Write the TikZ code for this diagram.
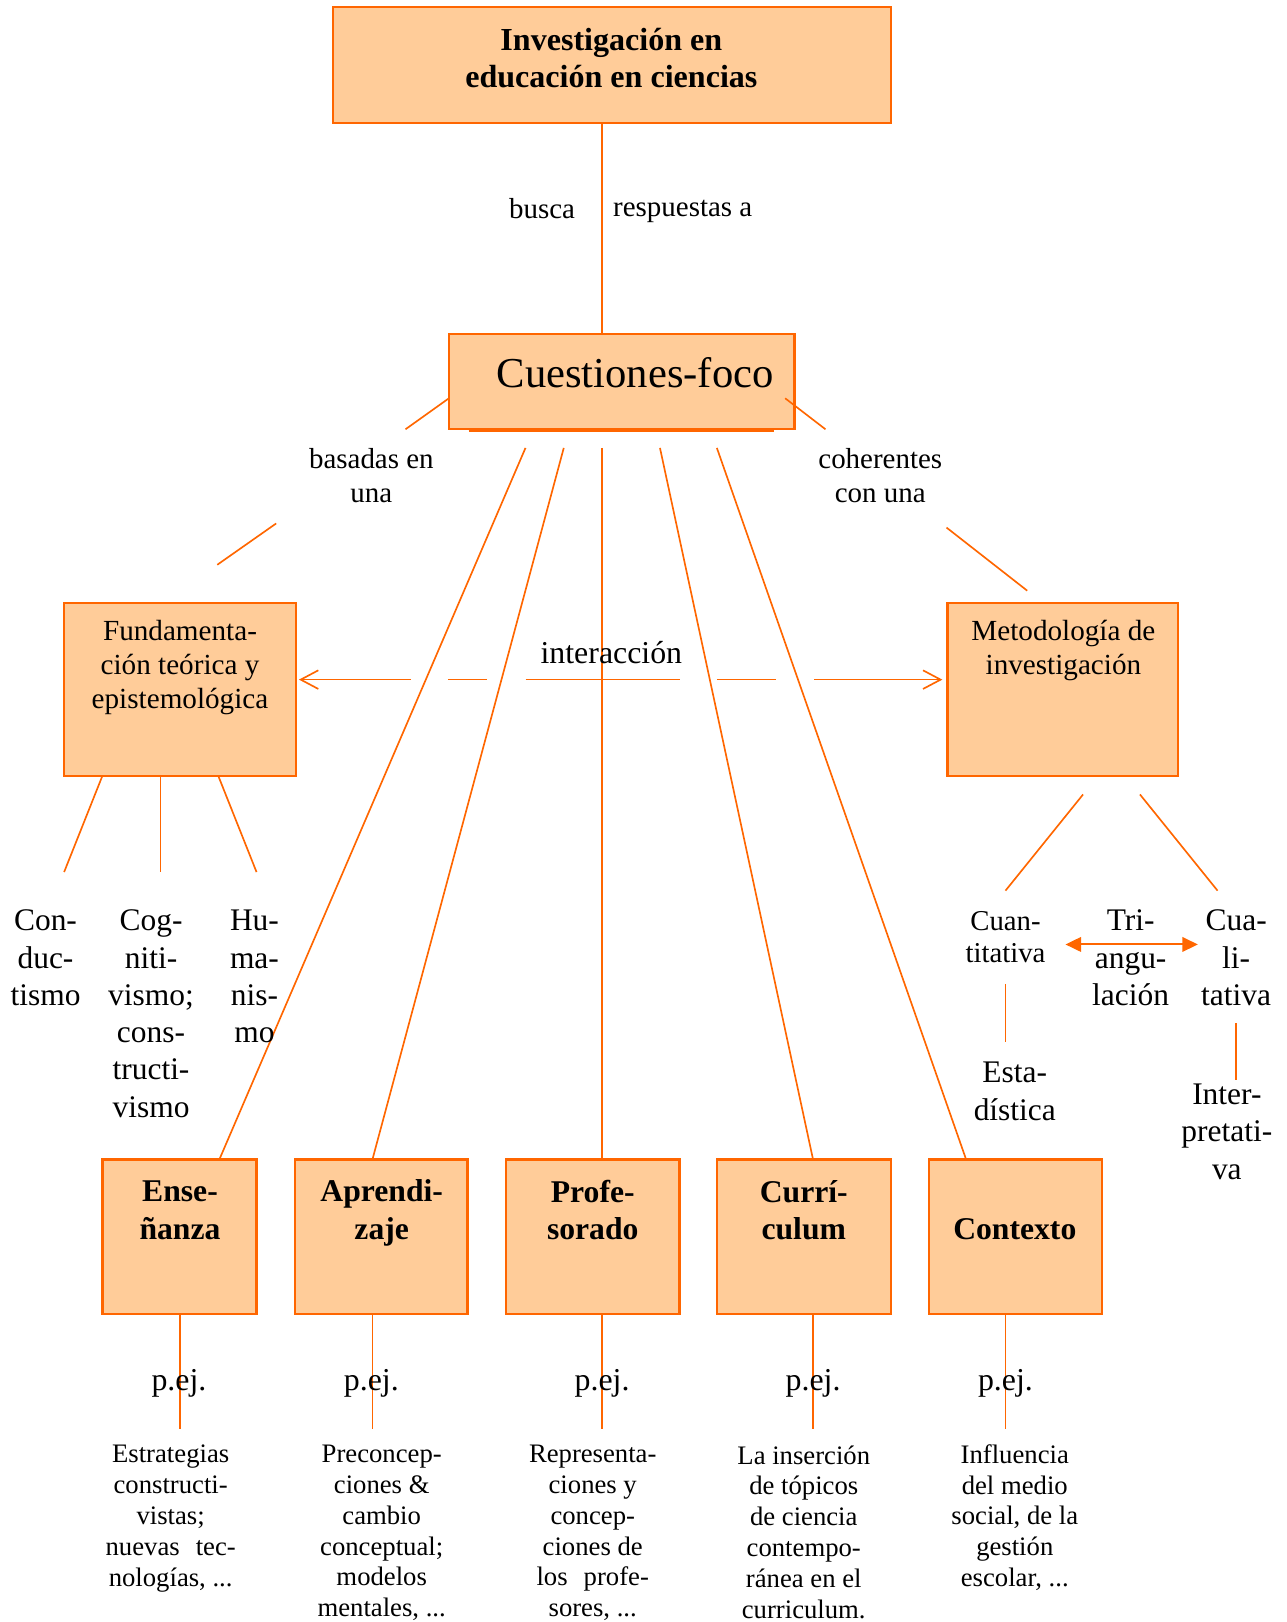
\documentclass[tikz,border=0pt]{standalone}
\usepackage{fontspec}
\setmainfont{Liberation Serif}
\usetikzlibrary{arrows.meta}
\definecolor{boxfill}{HTML}{FFCC99}
\definecolor{boxline}{HTML}{FF6600}
\newcommand{\fsz}[2]{\fontsize{#1}{#2}\selectfont}

\begin{document}
\begin{tikzpicture}[x=0.5pt,y=-0.5pt,
  box/.style={draw=boxline,fill=boxfill,line width=1.1pt,inner sep=0pt,outer sep=0pt},
  link/.style={draw=boxline,line width=0.8pt},
  txt/.style={inner sep=0pt,outer sep=0pt,align=center},
  barb/.style={{Straight Barb[length=8.5pt,width=9pt]}-},
  tri/.style={{Triangle[length=7.5pt,width=7pt]}-{Triangle[length=7.5pt,width=7pt]}},
  title/.style={txt,font=\bfseries\fsz{15.3}{18}},
  body/.style={txt,font=\fsz{14}{16.5}},
  branch/.style={txt,font=\fsz{15.2}{18}},
  note/.style={txt,font=\fsz{12.9}{14.9}},
  eg/.style={txt,font=\fsz{15.4}{18}}
]
\useasboundingbox (0,0) rectangle (1244,1568);

% boxes
\node[box,minimum width=269.5pt,minimum height=56pt] (top) at (591.5,63) {};
\node[box,minimum width=167pt,minimum height=46pt] (cf) at (601,369) {};
\draw[boxline,line width=0.9pt] (453,416.5) -- (748,416.5);
\node[box,minimum width=112pt,minimum height=83.5pt] (fund) at (174,666.5) {};
\node[box,minimum width=111.5pt,minimum height=83.5pt] (meto) at (1027.5,666.5) {};
\node[box,minimum width=74.5pt,minimum height=74.5pt] (ens) at (173.5,1195.5) {};
\node[box,minimum width=83.5pt,minimum height=74.5pt] (apr) at (368.5,1195.5) {};
\node[box,minimum width=84pt,minimum height=74.5pt] (pro) at (573,1195.5) {};
\node[box,minimum width=84pt,minimum height=74.5pt] (cur) at (777,1195.5) {};
\node[box,minimum width=83.5pt,minimum height=74.5pt] (con) at (981.5,1195.5) {};

% top link
\draw[link] (582,0 |- top.south) -- (582,0 |- cf.north);

% links to the two framing boxes, broken by their labels
\coordinate (bl1) at (392,415);
\coordinate (bl2) at (267,506);
\coordinate (bl3) at (210,546);
\draw[link] (cf.west |- 0,385) -- (bl1);
\draw[link] (bl2) -- (bl3);
\coordinate (cr0) at (759,385);
\coordinate (cr1) at (798,415);
\coordinate (cr2) at (915,510);
\coordinate (cr3) at (993,571);
\draw[link] (cr0) -- (cr1);
\draw[link] (cr2) -- (cr3);

% fan of links to the five topic boxes
\coordinate (f1) at (508,433);
\coordinate (f2) at (545,433);
\coordinate (f3) at (582,433);
\coordinate (f4) at (638,433);
\coordinate (f5) at (693,433);
\draw[link] (f1) -- (212,0 |- ens.north);
\draw[link] (f2) -- (360,0 |- apr.north);
\draw[link] (f3) -- (582,0 |- pro.north);
\draw[link] (f4) -- (786,0 |- cur.north);
\draw[link] (f5) -- (934,0 |- con.north);

% interaction arrow, interrupted where it crosses the fan
\coordinate (i1) at (397,657);
\coordinate (i2) at (433,657);
\coordinate (i3) at (471,657);
\coordinate (i4) at (508,657);
\coordinate (i5) at (657,657);
\coordinate (i6) at (693,657);
\coordinate (i7) at (750,657);
\coordinate (i8) at (787,657);
\draw[link,barb] (289,0 |- i1) -- (i1);
\draw[link] (i2) -- (i3);
\draw[link] (i4) -- (i5);
\draw[link] (i6) -- (i7);
\draw[link,barb] (911,0 |- i8) -- (i8);

% theoretical branches
\draw[link] (99,0 |- fund.south) -- (62,843);
\draw[link] (155,0 |- fund.south) -- (155,843);
\draw[link] (211,0 |- fund.south) -- (248,843);

% methodological branches
\coordinate (m1) at (1047,768);
\coordinate (m2) at (1102,768);
\draw[link] (m1) -- (972,861);
\draw[link] (m2) -- (1177,861);
\draw[link,line width=1pt,tri] (1030,913) -- (1158,913);
\draw[link] (972,951) -- (972,1007);
\draw[link] (1195,989) -- (1195,1044);

% example links
\draw[link] (174,0 |- ens.south) -- (174,1381);
\draw[link] (360,0 |- apr.south) -- (360,1381);
\draw[link] (582,0 |- pro.south) -- (582,1381);
\draw[link] (786,0 |- cur.south) -- (786,1381);
\draw[link] (972,0 |- con.south) -- (972,1381);

% texts
\node[title,font=\bfseries\fsz{15.5}{18}] (tTop) at (591,56) {Investigación en\\educación en ciencias};
\node[body] (tBusca) at (524,202) {busca};
\node[body] (tResp) at (660,204) {respuestas a};
\node[txt,font=\fsz{20.6}{24}] (tCf) at (614,360) {Cuestiones-foco};
\node[body] (tBas) at (359,460) {basadas en\\una};
\node[body] (tCoh) at (851,460) {coherentes\\con una};
\node[txt,font=\fsz{15.4}{18}] (tInt) at (591,631) {interacción};
\node[txt,font=\fsz{14.1}{16.5}] (tFund) at (174,645) {Fundamenta-\\ción teórica y\\epistemológica};
\node[txt,font=\fsz{14.1}{16.5}] (tMeto) at (1028,629) {Metodología de\\investigación};

\node[branch] (tCon) at (44,926) {Con-\\duc-\\tismo};
\node[branch] (tCog) at (146,980) {Cog-\\niti-\\vismo;\\cons-\\tructi-\\vismo};
\node[branch] (tHum) at (246,944) {Hu-\\ma-\\nis-\\mo};

\node[txt,font=\fsz{13.9}{15.5}] (tCuan) at (972,906) {Cuan-\\titativa};
\node[branch] (tTri) at (1093,926) {Tri-\\angu-\\lación};
\node[branch] (tCual) at (1195,926) {Cua-\\li-\\tativa};
\node[branch] (tEst) at (981,1055) {Esta-\\dística};
\node[branch] (tInter) at (1186,1094) {Inter-\\pretati-\\va};

\node[title] (tEns) at (174,1170) {Ense-\\ñanza};
\node[title] (tApr) at (369,1172.5) {Aprendi-\\zaje};
\node[title] (tPro) at (573,1170) {Profe-\\sorado};
\node[title] (tCur) at (777,1170) {Currí-\\culum};
\node[title] (tCtx) at (981,1188) {Contexto};

\node[eg] (e1) at (173,1337) {p.ej.};
\node[eg] (e2) at (359,1337) {p.ej.};
\node[eg] (e3) at (582,1337) {p.ej.};
\node[eg] (e4) at (786,1337) {p.ej.};
\node[eg] (e5) at (972,1337) {p.ej.};

\node[note] (n1) at (165,1468) {Estrategias\\constructi-\\vistas;\\nuevas\hspace{0.6em}tec-\\nologías, ...};
\node[note] (n2) at (369,1482) {Preconcep-\\ciones \&\\cambio\\conceptual;\\modelos\\mentales, ...};
\node[note] (n3) at (573,1482) {Representa-\\ciones y\\concep-\\ciones de\\los\hspace{0.6em}profe-\\sores, ...};
\node[note] (n4) at (777,1481) {La inserción\\de tópicos\\de ciencia\\contempo-\\ránea en el\\curriculum.};
\node[note] (n5) at (981,1467) {Influencia\\del medio\\social, de la\\gestión\\escolar, ...};
\end{tikzpicture}
\end{document}
